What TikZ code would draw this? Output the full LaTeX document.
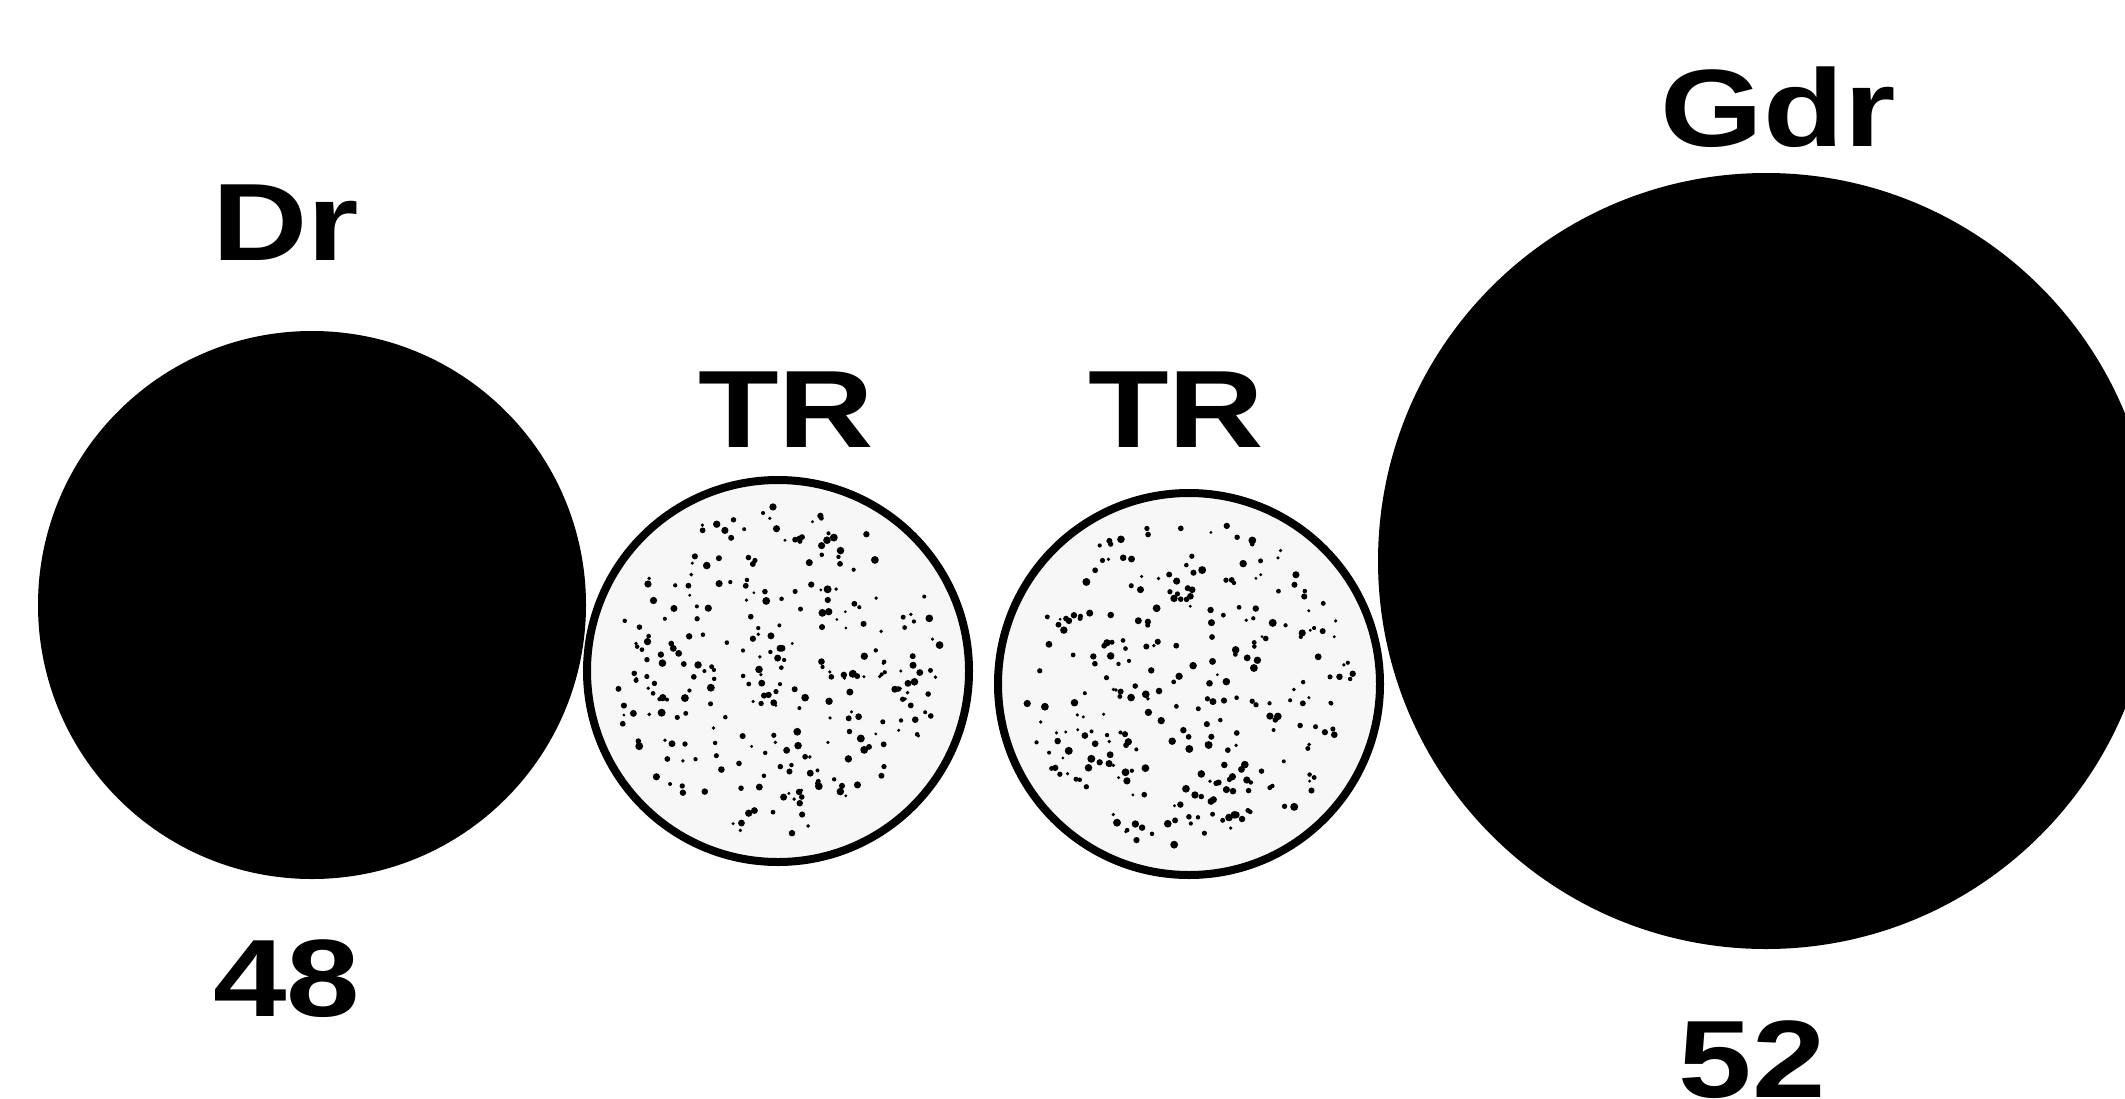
\documentclass[tikz,border=0pt]{standalone}
\usepackage{fontspec}
\usepackage{graphicx}
\setmainfont{Liberation Sans}
\usetikzlibrary{calc}
\newcommand{\widetxt}[1]{\scalebox{1.2}[1]{#1}}
\begin{document}
\begin{tikzpicture}[x=1pt,y=-1pt,
  blackball/.style={circle,fill=black,inner sep=0pt},
  trball/.style={circle,draw=black,line width=8pt,fill=black!3,inner sep=0pt,minimum size=382pt},
  lbl/.style={inner sep=0pt,anchor=base,font=\fontsize{110}{120}\selectfont\bfseries}]
\useasboundingbox (0,0) rectangle (2125,1098);
\node[blackball,minimum size=548pt] (dr) at (312,605) {};
\node[trball] (tr1) at (778,671) {};
\node[trball] (tr2) at (1189,684) {};
\node[blackball,minimum size=776pt] (gdr) at (1766,561) {};
\pgfmathsetseed{11}
\foreach \c in {tr1,tr2}{
  \foreach \i in {1,...,280}{
    \pgfmathsetmacro\rr{165*sqrt(rnd)}
    \pgfmathsetmacro\aa{360*rnd}
    \pgfmathsetmacro\ss{1.5+2.5*rnd}
    \fill[black] ($(\c)+(\aa:\rr)$) circle (\ss);
  }
}
\node[lbl] (tdr) at (286,260) {\widetxt{Dr}};
\node[lbl] (ttr1) at (786,447) {\widetxt{TR}};
\node[lbl] (ttr2) at (1176,447) {\widetxt{TR}};
\node[lbl] (tgdr) at (1778,146) {\widetxt{Gdr}};
\node[lbl] (t48) at (287,1016) {\widetxt{48}};
\node[lbl] (t52) at (1752,1097) {\widetxt{52}};
\end{tikzpicture}
\end{document}
